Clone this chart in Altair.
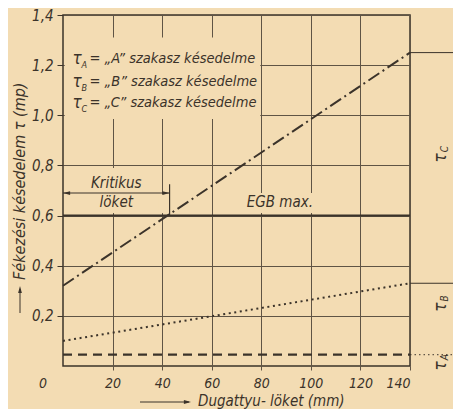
import altair as alt
import pandas as pd

# ---- data ----
stroke_mm = [0, 140]                 # Dugattyu-löket (mm)
tau_A_line = [0.32, 1.25]            # dash-dot line
tau_B_line = [0.10, 0.33]            # dotted line
tau_C_line = [0.045, 0.045]          # dashed line
egb_max = 0.6
critical_stroke = 43
x_tick_values = [20, 40, 60, 80, 100, 120, 140]
y_tick_values = [0.2, 0.4, 0.6, 0.8, 1.0, 1.2, 1.4]
legend_subs = ["A", "B", "C"]
legend_rest = ["= \u201eA\u201d szakasz késedelme",
               "= \u201eB\u201d szakasz késedelme",
               "= \u201eC\u201d szakasz késedelme"]
right_subs = ["C", "B", "A"]

INK = "#3b332a"
GRID = "#5f5445"
PAPER = "#f3dcb3"
FONT = "DejaVu Sans Condensed"

W, H = 347, 351
xs = alt.Scale(domain=[0, 140], nice=False, zero=False)
ys = alt.Scale(domain=[0, 1.4], nice=False, zero=False)

X = alt.X("x:Q", scale=xs, title=None,
          axis=alt.Axis(values=x_tick_values, grid=True, gridColor=GRID, gridWidth=1,
                        domain=False, tickSize=4, tickColor=GRID, labelPadding=6,
                        labelFont=FONT, labelFontSize=14, labelFontStyle="italic",
                        labelColor=INK, labelFontWeight="normal"))
Y = alt.Y("y:Q", scale=ys, title=None,
          axis=alt.Axis(values=y_tick_values, grid=True, gridColor=GRID, gridWidth=1,
                        domain=False, tickSize=6, tickColor=INK, labelPadding=4,
                        labelExpr="replace(format(datum.value, '.1f'), '.', ',')",
                        labelFont=FONT, labelFontSize=15, labelFontStyle="italic",
                        labelColor=INK, labelFontWeight="normal"))
X2 = alt.X2("x2:Q")
Y2 = alt.Y2("y2:Q")

def line_df(ys_):
    return pd.DataFrame({"x": stroke_mm, "y": ys_})

# masks that hide grid behind lettering (as in the drawing)
masks = pd.DataFrame({
    "x": [0.7, 0.7, 38.5, 72.0],
    "x2": [79.6, 38.5, 42.3, 102.0],
    "y": [0.985, 0.61, 0.61, 0.61],
    "y2": [1.31, 0.79, 0.685, 0.69],
})
mask_layer = alt.Chart(masks).mark_rect(fill=PAPER, stroke=None).encode(x=X, x2=X2, y=Y, y2=Y2)

line_A = alt.Chart(line_df(tau_A_line)).mark_line(
    color=INK, strokeWidth=2, strokeDash=[13, 4, 2, 4]).encode(x=X, y=Y)
line_B = alt.Chart(line_df(tau_B_line)).mark_line(
    color=INK, strokeWidth=2, strokeDash=[2, 3.6]).encode(x=X, y=Y)
line_C = alt.Chart(line_df(tau_C_line)).mark_line(
    color=INK, strokeWidth=2.2, strokeDash=[9, 6]).encode(x=X, y=Y)

egb = alt.Chart(pd.DataFrame({"x": [0], "x2": [140], "y": [egb_max]})).mark_rule(
    color=INK, strokeWidth=2).encode(x=X, x2=X2, y=Y)

crit_v = alt.Chart(pd.DataFrame({"x": [critical_stroke], "y": [egb_max], "y2": [0.725]})).mark_rule(
    color=INK, strokeWidth=1.2).encode(x=X, y=Y, y2=Y2)
crit_arrow = alt.Chart(pd.DataFrame({"x": [0], "x2": [critical_stroke], "y": [0.69]})).mark_rule(
    color=INK, strokeWidth=1).encode(x=X, x2=X2, y=Y)
head_left = alt.Chart(pd.DataFrame({"x": [0], "y": [0.69]})).mark_point(
    shape="M0,0 L1.7,-0.45 L1.7,0.45 Z", filled=True, fill=INK, stroke=None, size=70, opacity=1
).encode(x=X, y=Y)
head_right = alt.Chart(pd.DataFrame({"x": [critical_stroke], "y": [0.69]})).mark_point(
    shape="M0,0 L-1.7,-0.45 L-1.7,0.45 Z", filled=True, fill=INK, stroke=None, size=70, opacity=1
).encode(x=X, y=Y)

txt_kw = dict(font=FONT, fontStyle="italic", color=INK, fontSize=15, baseline="middle")
annot = pd.DataFrame({"x": [21.5, 21.5, 87.5], "y": [0.73, 0.655, 0.655],
                      "t": ["Kritikus", "löket", "EGB max."]})
annot_layer = alt.Chart(annot).mark_text(align="center", **txt_kw).encode(x=X, y=Y, text="t:N")

leg = pd.DataFrame({"x": [3.8] * 3, "y": [1.223, 1.133, 1.05],
                    "sub": legend_subs, "rest": legend_rest})
leg_tau = alt.Chart(leg).mark_text(align="left", text="τ", **{**txt_kw, "fontSize": 17}).encode(x=X, y=Y)
leg_sub = alt.Chart(leg).mark_text(align="left", dx=9, dy=6, **{**txt_kw, "fontSize": 9}).encode(
    x=X, y=Y, text="sub:N")
leg_rest = alt.Chart(leg).mark_text(align="left", dx=17, **{**txt_kw, "fontSize": 14.5}).encode(
    x=X, y=Y, text="rest:N")

# dimension lines on the right of the frame
ext = pd.DataFrame({"x": [140, 140], "x2": [163, 163], "y": [tau_A_line[1], tau_B_line[1]]})
ext_layer = alt.Chart(ext).mark_rule(color=INK, strokeWidth=1).encode(x=X, x2=X2, y=Y)
ext_c = alt.Chart(pd.DataFrame({"x": [140], "x2": [158], "y": [tau_C_line[1]]})).mark_rule(
    color=INK, strokeWidth=1, strokeDash=[1.5, 3]).encode(x=X, x2=X2, y=Y)
rl = pd.DataFrame({"x": [152.5, 152.5, 152.5], "y": [0.83, 0.235, 0.0],
                   "xs": [154.3, 154.3, 154.3], "ys": [0.865, 0.27, 0.035], "s": right_subs})
rl_tau = alt.Chart(rl).mark_text(angle=270, align="center", text="τ", **{**txt_kw, "fontSize": 17}).encode(
    x=X, y=Y)
rl_sub = alt.Chart(rl).mark_text(angle=270, align="center", **{**txt_kw, "fontSize": 10}).encode(
    x=alt.X("xs:Q", scale=xs), y=alt.Y("ys:Q", scale=ys), text="s:N")

one = pd.DataFrame({"k": [0]})
zero_lbl = alt.Chart(one).mark_text(text="0", align="center", **{**txt_kw, "fontSize": 14}).encode(
    x=alt.value(-20), y=alt.value(369))
xt_rule = alt.Chart(one).mark_rule(color=INK, strokeWidth=1).encode(
    x=alt.value(77), x2=alt.value(126), y=alt.value(387))
xt_head = alt.Chart(one).mark_point(
    shape="M0,0 L-1.7,-0.45 L-1.7,0.45 Z", filled=True, fill=INK, stroke=None, size=70, opacity=1
).encode(x=alt.value(128), y=alt.value(387))
xt_text = alt.Chart(one).mark_text(text="Dugattyu- löket (mm)", align="left",
                                   **{**txt_kw, "fontSize": 15}).encode(
    x=alt.value(135), y=alt.value(386))
yt_rule = alt.Chart(one).mark_rule(color=INK, strokeWidth=1).encode(
    x=alt.value(-43), y=alt.value(298), y2=alt.value(274))
yt_head = alt.Chart(one).mark_point(
    shape="M0,0 L-0.45,1.7 L0.45,1.7 Z", filled=True, fill=INK, stroke=None, size=70, opacity=1
).encode(x=alt.value(-43), y=alt.value(271))
yt_text = alt.Chart(one).mark_text(text="Fékezési késedelem τ (mp)", align="left", angle=270,
                                   **{**txt_kw, "fontSize": 16}).encode(
    x=alt.value(-43), y=alt.value(265))

chart = alt.layer(
    mask_layer, line_C, line_B, line_A, egb, crit_v, crit_arrow, head_left, head_right,
    annot_layer, leg_tau, leg_sub, leg_rest, ext_layer, ext_c, rl_tau, rl_sub,
    zero_lbl, xt_rule, xt_head, xt_text, yt_rule, yt_head, yt_text,
).properties(
    width=W, height=H,
    autosize=alt.AutoSizeParams(type="none"),
    padding={"left": 55, "top": 7, "right": 43, "bottom": 43},
    background=PAPER,
).configure_view(
    stroke=INK, strokeWidth=1.5, fill=PAPER
)

chart.save("out.html", embed_options={"renderer": "svg", "actions": False})
